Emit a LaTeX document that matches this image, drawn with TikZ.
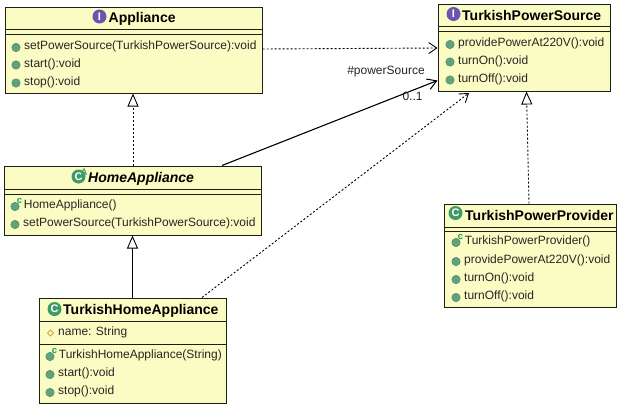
\documentclass[tikz,border=0pt]{standalone}
\usepackage{fontspec}
\setmainfont{Liberation Sans}
\usetikzlibrary{arrows.meta,calc,shapes.geometric}
\definecolor{boxfill}{HTML}{FBFBC4}
\definecolor{boxline}{HTML}{1E1E14}
\definecolor{dotgreen}{HTML}{5FA37C}
\definecolor{clsgreen}{HTML}{3F9A6A}
\definecolor{ifpurple}{HTML}{6A55B0}
\definecolor{ctorgreen}{HTML}{12A04A}
\definecolor{diamondc}{HTML}{D8A24A}
\tikzset{
  x=1pt,y=-1pt,
  classbox/.style={draw=boxline,fill=boxfill,line width=.95pt,rectangle,inner sep=0pt,outer sep=0pt},
  sepline/.style={draw=boxline,line width=.9pt},
  titletext/.style={font=\bfseries\fontsize{14}{16}\selectfont,text=black,inner sep=0pt,anchor=west},
  abstitle/.style={font=\bfseries\itshape\fontsize{14}{16}\selectfont,text=black,inner sep=0pt,anchor=west},
  membertext/.style={font=\fontsize{12}{14}\selectfont,text=black!85,inner sep=0pt,anchor=west},
  labeltext/.style={font=\fontsize{12}{14}\selectfont,text=black!85,inner sep=0pt},
  memberdot/.style={circle,fill=dotgreen,draw=dotgreen!80!black,line width=.4pt,minimum size=8.5pt,inner sep=0pt},
  typeicon/.style={circle,minimum size=14pt,inner sep=0pt,text=white,font=\bfseries\fontsize{11}{11}\selectfont},
  ctormark/.style={font=\bfseries\fontsize{9.5}{9.5}\selectfont,text=ctorgreen,inner sep=0pt},
  fieldmark/.style={diamond,draw=diamondc,line width=.9pt,minimum size=6.5pt,inner sep=0pt},
  depend/.style={draw=black,line width=.9pt,dash pattern=on 2pt off 2pt,-{Straight Barb[length=8pt,width=11pt,line width=.9pt]}},
  assoc/.style={draw=black,line width=1.1pt,-{Straight Barb[length=9pt,width=11pt,line width=1pt]}},
  realize/.style={draw=black,line width=.9pt,dash pattern=on 2pt off 2pt,-{Triangle[open,fill=white,length=13pt,width=11pt,line width=.9pt]}},
  general/.style={draw=black,line width=1.1pt,-{Triangle[open,fill=white,length=13pt,width=11pt,line width=.9pt]}},
}
% box: name, left, top, right, bottom
\newcommand{\umlbox}[5]{\node[classbox,anchor=north west,minimum width=#4-#2,minimum height=#5-#3] (#1) at (#2,#3) {};}
\newcommand{\umlsep}[3]{\draw[sepline] (#2,#1) -- (#3,#1);}
\newcommand{\umlop}[4]{\node[memberdot] (#1d) at (#2,#3) {};\node[membertext] (#1) at (#2+8,#3-1) {#4};}
\newcommand{\umlctor}[4]{\node[memberdot] (#1d) at (#2-1,#3+1) {};\node[ctormark] (#1c) at (#2+3.5,#3-4.5) {c};\node[membertext] (#1) at (#2+7.7,#3-.5) {#4};}
\begin{document}
\begin{tikzpicture}
\useasboundingbox (0,0) rectangle (620,407);
\fill[white] (0,0) rectangle (620,407);
% Boxes
\umlbox{app}{5}{7}{262}{93}
\umlsep{29.5}{5}{262}\umlsep{34}{5}{262}
\umlbox{tps}{438}{4}{610}{91}
\umlsep{26}{438}{610}\umlsep{31}{438}{610}
\umlbox{home}{4}{166}{261}{235}
\umlsep{189}{4}{261}\umlsep{194}{4}{261}
\umlbox{thome}{39}{298}{226}{403}
\umlsep{321}{39}{226}\umlsep{344}{39}{226}
\umlbox{prov}{444}{204}{616}{307}
\umlsep{227}{444}{616}\umlsep{231}{444}{616}
% Titles
\node[typeicon,fill=ifpurple] (appi) at (99.5,16.5) {I};
\node[titletext] (appt) at (108.5,18.5) {Appliance};
\node[typeicon,fill=ifpurple] (tpsi) at (453.5,14) {I};
\node[titletext] (tpst) at (462,15.5) {TurkishPowerSource};
\node[typeicon,fill=clsgreen] (homei) at (78.5,176.5) {C};
\node[ctormark,text=clsgreen] (homea) at (84,172.5) {A};
\node[abstitle] (homet) at (88,178.5) {HomeAppliance};
\node[typeicon,fill=clsgreen] (thomei) at (54.5,309) {C};
\node[titletext] (thomet) at (63,310.5) {TurkishHomeAppliance};
\node[typeicon,fill=clsgreen] (provi) at (455.5,213) {C};
\node[titletext] (provt) at (465,215) {TurkishPowerProvider};
% Members
\umlop{a1}{16}{47.5}{setPowerSource(TurkishPowerSource):void}
\umlop{a2}{16}{65}{start():void}
\umlop{a3}{16}{83}{stop():void}
\umlop{t1}{450}{44.5}{providePowerAt220V():void}
\umlop{t2}{450}{62}{turnOn():void}
\umlop{t3}{450}{80}{turnOff():void}
\umlctor{h1}{16}{205.5}{HomeAppliance()}
\umlop{h2}{15}{224.5}{setPowerSource(TurkishPowerSource):void}
\node[fieldmark] (n1d) at (50.5,333) {};
\node[membertext] (n1) at (58,332.5) {name: String};
\umlctor{n2}{51}{355.5}{TurkishHomeAppliance(String)}
\umlop{n3}{50}{374.5}{start():void}
\umlop{n4}{50}{392.5}{stop():void}
\umlctor{p1}{457}{241.5}{TurkishPowerProvider()}
\umlop{p2}{456}{261.5}{providePowerAt220V():void}
\umlop{p3}{456}{279.5}{turnOn():void}
\umlop{p4}{456}{297.5}{turnOff():void}
% Connectors
\draw[depend] ($(app.north east)+(.5,42)$) -- ($(tps.north west)+(-.5,44)$);
\draw[realize] ($(home.north west)+(129,-.5)$) -- ($(app.south west)+(128,.5)$);
\draw[assoc] ($(home.north east)+(-39,-.5)$) -- ($(tps.north west)+(-.5,76.5)$);
\draw[depend] ($(thome.north west)+(163,-.5)$) -- ($(tps.south west)+(31,2)$);
\draw[realize] ($(prov.north west)+(85,-.5)$) -- ($(tps.south west)+(88.5,.5)$);
\draw[general] ($(thome.north west)+(93.5,-.5)$) -- ($(home.south west)+(128.5,.5)$);
% Labels
\node[labeltext] (lrole) at (386,72) {\#powerSource};
\node[labeltext] (lmult) at (412.5,96) {0..1};
\end{tikzpicture}
\end{document}
